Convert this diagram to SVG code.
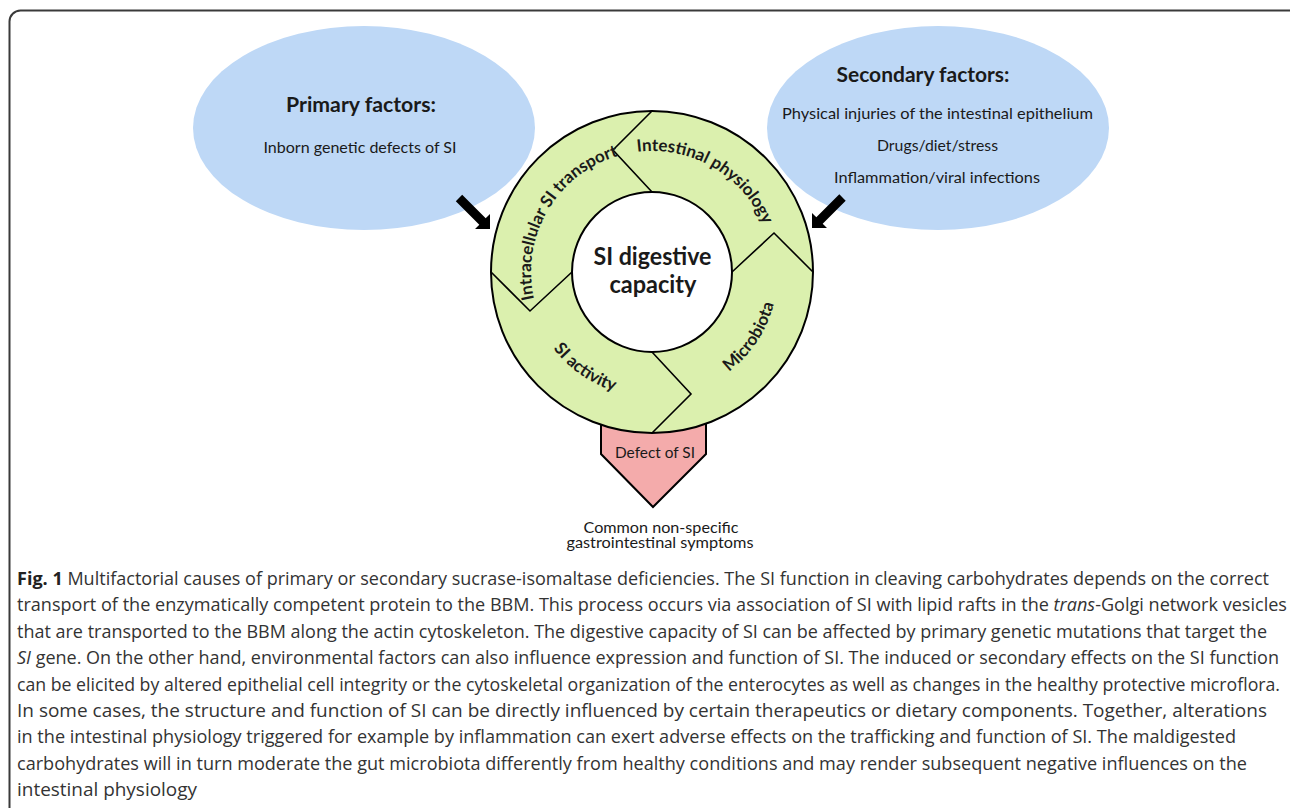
<svg xmlns="http://www.w3.org/2000/svg" width="1290" height="808" viewBox="0 0 1290 808">
<style>
.frame{fill:none;stroke:#3a3a3a;stroke-width:2}
.factor{fill:#bed8f6;stroke:none}
.seg{fill:#dbf0ae;stroke:#000;stroke-width:2}
.div{fill:none;stroke:#000;stroke-width:1.6;stroke-linejoin:miter}
.core{fill:#fff;stroke:#000;stroke-width:2}
.defect{fill:#f4abab;stroke:#000;stroke-width:2;stroke-linejoin:miter}
.arrow{fill:#000;stroke:none}
.t{font-family:Lato,"Open Sans","Liberation Sans",sans-serif;fill:#1a1a1a}
.b{font-weight:bold}
.ring{font-family:Lato,"Open Sans","Liberation Sans",sans-serif;font-weight:bold;font-size:17px;fill:#1a1a1a}
.cap{font-family:"Open Sans","Noto Sans","Liberation Sans",sans-serif;font-size:18.5px;fill:#333}
</style>
<defs>
<path id="pIntra" d="M 534.9 302.3 A 121 121 0 0 1 621.7 154.9"/>
<path id="pInt" d="M 620.7 155.1 A 121 121 0 0 1 768.9 240.7"/>
<path id="pMic" d="M 684.6 393.7 A 126 126 0 0 0 776.8 254.5"/>
<path id="pAct" d="M 531.3 304.4 A 125 125 0 0 0 662.9 396.5"/>
</defs>
<rect class="frame" x="9.5" y="10.5" width="1290" height="820" rx="11"/>

<g id="primary-factors">
<ellipse class="factor" cx="364" cy="128" rx="171" ry="102"/>
<text class="t b" x="361" y="112" font-size="20" text-anchor="middle" textLength="150" lengthAdjust="spacingAndGlyphs">Primary factors:</text>
<text class="t" x="360" y="153" font-size="16" text-anchor="middle" textLength="193" lengthAdjust="spacingAndGlyphs">Inborn genetic defects of SI</text>
</g>

<g id="secondary-factors">
<ellipse class="factor" cx="938" cy="128" rx="171" ry="102"/>
<text class="t b" x="923" y="82" font-size="20" text-anchor="middle" textLength="173" lengthAdjust="spacingAndGlyphs">Secondary factors:</text>
<text class="t" x="937.5" y="119" font-size="16" text-anchor="middle" textLength="311" lengthAdjust="spacingAndGlyphs">Physical injuries of the intestinal epithelium</text>
<text class="t" x="937.5" y="151" font-size="16" text-anchor="middle" textLength="121" lengthAdjust="spacingAndGlyphs">Drugs/diet/stress</text>
<text class="t" x="937" y="183" font-size="16" text-anchor="middle" textLength="206" lengthAdjust="spacingAndGlyphs">Inflammation/viral infections</text>
</g>

<g id="defect-of-si">
<polygon class="defect" points="601,415 706,415 706,454 653,507 601,454"/>
<text class="t" x="655" y="458" font-size="15.5" text-anchor="middle" textLength="80" lengthAdjust="spacingAndGlyphs">Defect of SI</text>
</g>

<g id="si-ring">
<circle class="seg" cx="652" cy="272" r="161"/>
<polyline class="div" points="652,111 613,150 652,192"/>
<polyline class="div" points="491,272 530,311 572,272"/>
<polyline class="div" points="652,433 691,394 652,352"/>
<polyline class="div" points="813,272 774,233 732,272"/>
<text class="ring"><textPath href="#pIntra" startOffset="50%" text-anchor="middle">Intracellular SI transport</textPath></text>
<text class="ring"><textPath href="#pInt" startOffset="50%" text-anchor="middle">Intestinal physiology</textPath></text>
<text class="ring"><textPath href="#pMic" startOffset="50%" text-anchor="middle">Microbiota</textPath></text>
<text class="ring"><textPath href="#pAct" startOffset="50%" text-anchor="middle">SI activity</textPath></text>
</g>

<g id="si-digestive-capacity">
<circle class="core" cx="652" cy="272" r="80"/>
<text class="t b" x="652.5" y="265" font-size="24" text-anchor="middle" textLength="118" lengthAdjust="spacingAndGlyphs">SI digestive</text>
<text class="t b" x="653" y="293" font-size="24" text-anchor="middle" textLength="87" lengthAdjust="spacingAndGlyphs">capacity</text>
</g>

<g id="symptoms">
<text class="t" x="661" y="533" font-size="14.5" text-anchor="middle" textLength="155" lengthAdjust="spacingAndGlyphs">Common non-specific</text>
<text class="t" x="660" y="548" font-size="14.5" text-anchor="middle" textLength="187" lengthAdjust="spacingAndGlyphs">gastrointestinal symptoms</text>
</g>

<g id="connectors">
<polygon class="arrow" points="462.2,194.8 485.7,218.3 490,214 490,229 475,229 479.3,224.7 455.8,201.2"/>
<polygon class="arrow" points="839.3,194.3 816.3,217.3 812,213 812,228 827,228 822.7,223.7 845.7,200.7"/>
</g>

<g id="caption">
<text class="cap" x="17" y="585" textLength="1252" lengthAdjust="spacingAndGlyphs"><tspan font-weight="bold" fill="#222">Fig. 1</tspan> Multifactorial causes of primary or secondary sucrase-isomaltase deficiencies. The SI function in cleaving carbohydrates depends on the correct</text>
<text class="cap" x="17" y="611.4" textLength="1270" lengthAdjust="spacingAndGlyphs">transport of the enzymatically competent protein to the BBM. This process occurs via association of SI with lipid rafts in the <tspan font-style="italic">trans</tspan>-Golgi network vesicles</text>
<text class="cap" x="17" y="637.8" textLength="1250" lengthAdjust="spacingAndGlyphs">that are transported to the BBM along the actin cytoskeleton. The digestive capacity of SI can be affected by primary genetic mutations that target the</text>
<text class="cap" x="17" y="664.2" textLength="1262" lengthAdjust="spacingAndGlyphs"><tspan font-style="italic">SI</tspan> gene. On the other hand, environmental factors can also influence expression and function of SI. The induced or secondary effects on the SI function</text>
<text class="cap" x="17" y="690.6" textLength="1263" lengthAdjust="spacingAndGlyphs">can be elicited by altered epithelial cell integrity or the cytoskeletal organization of the enterocytes as well as changes in the healthy protective microflora.</text>
<text class="cap" x="17" y="717" textLength="1250" lengthAdjust="spacingAndGlyphs">In some cases, the structure and function of SI can be directly influenced by certain therapeutics or dietary components. Together, alterations</text>
<text class="cap" x="17" y="743.4" textLength="1219" lengthAdjust="spacingAndGlyphs">in the intestinal physiology triggered for example by inflammation can exert adverse effects on the trafficking and function of SI. The maldigested</text>
<text class="cap" x="17" y="769.8" textLength="1230" lengthAdjust="spacingAndGlyphs">carbohydrates will in turn moderate the gut microbiota differently from healthy conditions and may render subsequent negative influences on the</text>
<text class="cap" x="17" y="796.2" textLength="180" lengthAdjust="spacingAndGlyphs">intestinal physiology</text>
</g>
</svg>
